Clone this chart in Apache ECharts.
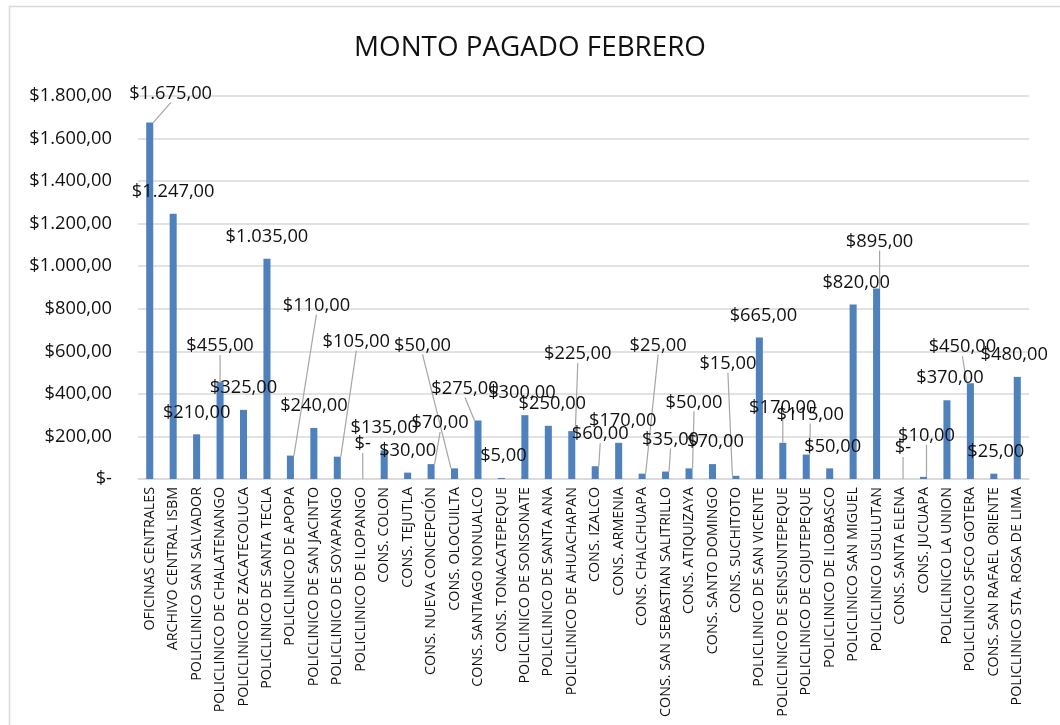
<!DOCTYPE html>
<html>
<head>
<meta charset="utf-8">
<script src="https://cdn.jsdelivr.net/npm/echarts@6/dist/echarts.min.js"></script>
<style>html,body{margin:0;padding:0;background:#fff}#c{width:1060px;height:725px}</style>
</head>
<body>
<div id="c"></div>
<script>
const categories = [
  "OFICINAS CENTRALES","ARCHIVO CENTRAL ISBM","POLICLINICO SAN SALVADOR","POLICLINICO DE CHALATENANGO",
  "POLICLINICO DE ZACATECOLUCA","POLICLINICO DE SANTA TECLA","POLICLINICO DE APOPA","POLICLINICO DE SAN JACINTO",
  "POLICLINICO DE SOYAPANGO","POLICLINICO DE ILOPANGO","CONS. COLON","CONS. TEJUTLA","CONS. NUEVA CONCEPCIÓN",
  "CONS. OLOCUILTA","CONS. SANTIAGO NONUALCO","CONS. TONACATEPEQUE","POLICLINICO DE SONSONATE","POLICLINICO DE SANTA ANA",
  "POLICLINICO DE AHUACHAPAN","CONS. IZALCO","CONS. ARMENIA","CONS. CHALCHUAPA","CONS. SAN SEBASTIAN SALITRILLO",
  "CONS. ATIQUIZAYA","CONS. SANTO DOMINGO","CONS. SUCHITOTO","POLICLINICO DE SAN VICENTE","POLICLINICO DE SENSUNTEPEQUE",
  "POLICLINICO DE COJUTEPEQUE","POLICLINICO DE ILOBASCO","POLICLINICO SAN MIGUEL","POLICLINICO USULUTAN",
  "CONS. SANTA ELENA","CONS. JUCUAPA","POLICLINICO LA UNION","POLICLINICO SFCO GOTERA","CONS. SAN RAFAEL ORIENTE",
  "POLICLINICO STA. ROSA DE LIMA"
];
const montoPagado = [
  1675, 1247, 210, 455, 325, 1035, 110, 240, 105, 0, 135, 30, 70, 50, 275, 5, 300, 250,
  225, 60, 170, 25, 35, 50, 70, 15, 665, 170, 115, 50, 820, 895, 0, 10, 370, 450, 25, 480
];
const yTicks = { min: 0, max: 1800, interval: 200 };
const titleText = "MONTO PAGADO FEBRERO";

// label displacement (px) as placed in the reference, with leader line where moved
const labelShift = [
  [21,-7,1],[0,0,0],[0,0,0],[0,-14,1],[0,0,0],[0,0,0],[26,-128,1],[0,0,0],[19,-93,1],[2,-13,1],
  [0,0,0],[0,0,0],[9,-19,1],[-32,-101,1],[-13,-10,1],[2,0,0],[-3,0,0],[4,0,0],[6,-55,1],[5,-10,1],
  [4,0,0],[16,-106,1],[5,-10,1],[5,-44,1],[3,0,0],[-8,-90,1],[4,0,0],[0,-13,1],[4,-18,1],[3,0,0],
  [3,0,0],[3,-25,1],[3,-9,1],[3,-19,1],[3,0,0],[-8,-14,1],[2,0,0],[-3,0,0]
];

function money(v) {
  if (v === 0) return "$-";
  const s = Math.round(v).toString().replace(/\B(?=(\d{3})+(?!\d))/g, ".");
  return "$" + s + ",00";
}

const FONT = "'Open Sans', 'Liberation Sans', sans-serif";

const chart = echarts.init(document.getElementById('c'), null, { renderer: 'canvas' });
chart.setOption({
  animation: false,
  backgroundColor: '#fff',
  graphic: [{
    type: 'rect', left: 7, top: 4, shape: { x: 0, y: 0, width: 1100, height: 800 },
    style: { fill: 'none', stroke: '#d9d9d9', lineWidth: 1.5 }, silent: true, z: -1
  }],
  title: {
    text: titleText, left: 'center', top: 29,
    textStyle: { fontFamily: FONT, fontSize: 27.8, fontWeight: 'normal', color: '#111' }
  },
  grid: { left: 138, right: 31, top: 96, bottom: 246, containLabel: false },
  xAxis: {
    type: 'category', data: categories,
    axisLine: { lineStyle: { color: '#d9d9d9', width: 1.5 } },
    axisTick: { show: false },
    axisLabel: { rotate: 90, interval: 0, margin: 8, fontFamily: FONT, fontSize: 14.3, color: '#111' }
  },
  yAxis: {
    type: 'value', min: yTicks.min, max: yTicks.max, interval: yTicks.interval,
    axisLine: { show: false }, axisTick: { show: false },
    splitLine: { lineStyle: { color: '#d9d9d9', width: 1.5 } },
    axisLabel: { formatter: money, fontFamily: FONT, fontSize: 18.3, color: '#111', margin: 26 }
  },
  series: [{
    type: 'bar', barWidth: '30%',
    itemStyle: { color: '#4f81bd' },
    data: montoPagado.map((v, i) => ({
      value: v,
      labelLine: { show: !!labelShift[i][2] }
    })),
    label: {
      show: true, position: 'top', distance: 13,
      formatter: p => money(p.value),
      fontFamily: FONT, fontSize: 18.3, color: '#111'
    },
    labelLine: { lineStyle: { color: '#a6a6a6', width: 1.2 } },
    labelLayout: p => ({ dx: labelShift[p.dataIndex][0], dy: labelShift[p.dataIndex][1] })
  }]
});
</script>
</body>
</html>
